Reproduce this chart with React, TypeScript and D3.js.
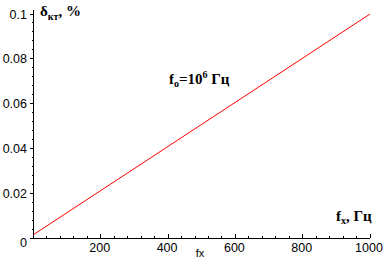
import React from "react";
import * as d3 from "d3";

const fxValues = [0, 1000];
const deltaValues = [0.0015, 0.1];
const xTicks = [200, 400, 600, 800, 1000];
const yTicks = [0.02, 0.04, 0.06, 0.08, 0.1];

export default function App() {
  const W = 386, H = 265;
  const x = d3.scaleLinear().domain([0, 1000]).range([33.5, 370]);
  const y = d3.scaleLinear().domain([0, 0.1]).range([238, 14]);
  const line = d3.line<number>().x((d, i) => x(fxValues[i])).y((d) => y(d));
  const xMinor = d3.range(0, 1001, 40);
  const yMinor = d3.range(0, 0.1001, 0.004);
  const sans = "'Liberation Sans', Arial, sans-serif";
  const serif = "'Liberation Serif', 'Times New Roman', serif";
  return (
    <svg width={W} height={H} style={{ position: "absolute", left: 0, top: 0, background: "#fff" }}>
      <rect width={W} height={H} fill="#fff" />
      {/* axes */}
      <line x1={x(0)} x2={x(1000)} y1={y(0)} y2={y(0)} stroke="#000" strokeWidth={1} shapeRendering="crispEdges" />
      <line x1={x(0)} x2={x(0)} y1={y(0)} y2={10} stroke="#000" strokeWidth={1} shapeRendering="crispEdges" />
      {xMinor.map((v) => (
        <line key={"xm" + v} x1={x(v)} x2={x(v)} y1={y(0)} y2={y(0) - (v % 200 === 0 ? 4 : 2)} stroke="#000" shapeRendering="crispEdges" />
      ))}
      {yMinor.map((v, i) => (
        <line key={"ym" + i} x1={x(0)} x2={x(0) - (i % 5 === 0 ? 4 : 2)} y1={y(v)} y2={y(v)} stroke="#000" shapeRendering="crispEdges" />
      ))}
      {xTicks.map((v) => (
        <text key={"xt" + v} x={x(v) - 1} y={252} textAnchor="middle" fontFamily={sans} fontSize={12.5} fill="#000">{v}</text>
      ))}
      {yTicks.map((v) => (
        <text key={"yt" + v} x={27} y={y(v) + 4.5} textAnchor="end" fontFamily={sans} fontSize={12.5} fill="#000">{String(+v.toFixed(2))}</text>
      ))}
      <text x={27} y={247} textAnchor="end" fontFamily={sans} fontSize={12.5} fill="#000">0</text>
      {/* data line */}
      <path d={line(deltaValues) || ""} fill="none" stroke="#ff0000" strokeWidth={1} />
      {/* labels */}
      <text x={40} y={16} fontFamily={serif} fontWeight="bold" fontSize={15} fill="#000">
        δ<tspan fontSize={10} dy={4}>кт</tspan><tspan dy={-4}>, %</tspan>
      </text>
      <text x={169} y={84} fontFamily={serif} fontWeight="bold" fontSize={15} fill="#000">
        f<tspan fontSize={10} dy={3}>o</tspan><tspan dy={-3}>=10</tspan><tspan fontSize={10} dy={-6}>6</tspan><tspan dy={6}> Гц</tspan>
      </text>
      <text x={336} y={221} fontFamily={serif} fontWeight="bold" fontSize={15} fill="#000">
        f<tspan fontSize={10} dy={3}>x</tspan><tspan dy={-3}>, Гц</tspan>
      </text>
      <text x={200} y={257} textAnchor="middle" fontFamily={sans} fontSize={11} fill="#000">fx</text>
    </svg>
  );
}
